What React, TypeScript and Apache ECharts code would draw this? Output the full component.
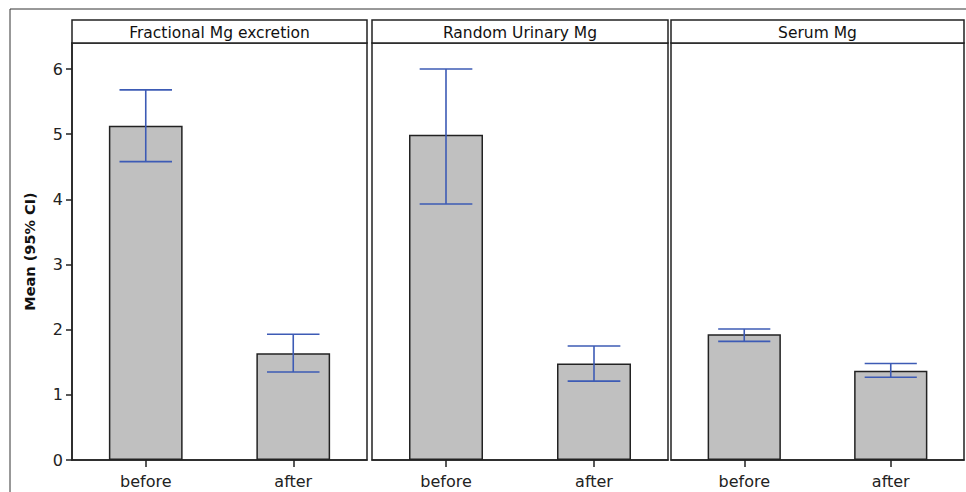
import React, { useEffect, useRef } from "react";
import * as echarts from "echarts";

const categories = ["before", "after"];
const panelTitles = ["Fractional Mg excretion", "Random Urinary Mg", "Serum Mg"];
const yTicks = [0, 1, 2, 3, 4, 5, 6];
const yMax = 6.4;

const meanFractional = [5.13, 1.64];
const lowFractional = [4.58, 1.35];
const highFractional = [5.68, 1.93];

const meanUrinary = [4.99, 1.48];
const lowUrinary = [3.93, 1.21];
const highUrinary = [6.0, 1.75];

const meanSerum = [1.93, 1.37];
const lowSerum = [1.82, 1.27];
const highSerum = [2.01, 1.48];

const means = [meanFractional, meanUrinary, meanSerum];
const lows = [lowFractional, lowUrinary, lowSerum];
const highs = [highFractional, highUrinary, highSerum];

const FONT = "DejaVu Sans";
const DARK = "#222222";
const BLUE = "#3d5bb5";

const panelBoxes = [
  { left: 72, width: 295 },
  { left: 372, width: 296 },
  { left: 671, width: 293 },
];
const plotTop = 43;
const plotHeight = 417;
const headerTop = 20;

export default function App() {
  const ref = useRef<HTMLDivElement>(null);
  useEffect(() => {
    if (!ref.current) return;
    const chart = echarts.init(ref.current, null, { renderer: "svg" });

    const grids = panelBoxes.map((b) => ({
      left: b.left,
      width: b.width,
      top: plotTop,
      height: plotHeight,
      show: true,
      borderColor: DARK,
      borderWidth: 1.5,
      backgroundColor: "#ffffff",
      containLabel: false,
    }));

    const xAxes = panelBoxes.map((_, i) => ({
      type: "category",
      gridIndex: i,
      data: categories,
      boundaryGap: true,
      axisLine: { show: true, lineStyle: { color: DARK, width: 1.5 } },
      axisTick: { show: true, alignWithLabel: true, length: 7, lineStyle: { color: DARK, width: 1.5 } },
      axisLabel: { fontFamily: FONT, fontSize: 16, color: DARK, margin: 13 },
      splitLine: { show: false },
    }));

    const yAxes = panelBoxes.map((_, i) => ({
      type: "value",
      gridIndex: i,
      min: 0,
      max: yMax,
      interval: 1,
      name: i === 0 ? "Mean (95% CI)" : "",
      nameLocation: "middle",
      nameGap: 35,
      nameTextStyle: { fontFamily: FONT, fontSize: 14.5, fontWeight: "bold", color: "#111" },
      axisLine: { show: i === 0, lineStyle: { color: DARK, width: 1.5 } },
      axisTick: {
        show: i === 0,
        length: 6,
        lineStyle: { color: DARK, width: 1.5 },
        customValues: yTicks,
      },
      axisLabel: {
        show: i === 0,
        fontFamily: FONT,
        fontSize: 16,
        color: DARK,
        margin: 9,
        customValues: yTicks,
      },
      splitLine: { show: false },
    }));

    const series: any[] = [];
    panelBoxes.forEach((_, i) => {
      series.push({
        type: "bar",
        xAxisIndex: i,
        yAxisIndex: i,
        data: means[i],
        barWidth: "50%",
        itemStyle: { color: "#c0c0c0", borderColor: DARK, borderWidth: 1.5 },
        z: 2,
      });
      series.push({
        type: "custom",
        xAxisIndex: i,
        yAxisIndex: i,
        z: 5,
        encode: { x: 0, y: [1, 2] },
        data: categories.map((_, j) => [j, lows[i][j], highs[i][j]]),
        renderItem: (params: any, api: any) => {
          const x = api.value(0);
          const pLo = api.coord([x, api.value(1)]);
          const pHi = api.coord([x, api.value(2)]);
          const half = api.size([1, 0])[0] * 0.178;
          const style = { stroke: BLUE, lineWidth: 1.6 };
          return {
            type: "group",
            children: [
              { type: "line", shape: { x1: pHi[0], y1: pHi[1], x2: pLo[0], y2: pLo[1] }, style },
              { type: "line", shape: { x1: pHi[0] - half, y1: pHi[1], x2: pHi[0] + half, y2: pHi[1] }, style },
              { type: "line", shape: { x1: pLo[0] - half, y1: pLo[1], x2: pLo[0] + half, y2: pLo[1] }, style },
            ],
          };
        },
      });
    });

    const graphics: any[] = [
      {
        type: "rect",
        shape: { x: 10, y: 9, width: 1000, height: 1000 },
        style: { fill: "none", stroke: "#333", lineWidth: 1 },
        z: 0,
      },
    ];
    panelBoxes.forEach((b, i) => {
      graphics.push({
        type: "rect",
        shape: { x: b.left, y: headerTop, width: b.width, height: plotTop - headerTop },
        style: { fill: "#ffffff", stroke: DARK, lineWidth: 1.5 },
        z: 10,
      });
      graphics.push({
        type: "text",
        x: b.left + b.width / 2,
        y: headerTop + (plotTop - headerTop) / 2 + 1,
        style: {
          text: panelTitles[i],
          fontFamily: FONT,
          fontSize: 15.5,
          fill: "#111",
          textAlign: "center",
          textVerticalAlign: "middle",
        },
        z: 11,
      });
    });

    chart.setOption({
      animation: false,
      backgroundColor: "#ffffff",
      grid: grids,
      xAxis: xAxes,
      yAxis: yAxes,
      series,
      graphic: graphics,
    });
    return () => chart.dispose();
  }, []);
  return (
    <div
      ref={ref}
      style={{ position: "fixed", left: 0, top: 0, width: 966, height: 492 }}
    />
  );
}
